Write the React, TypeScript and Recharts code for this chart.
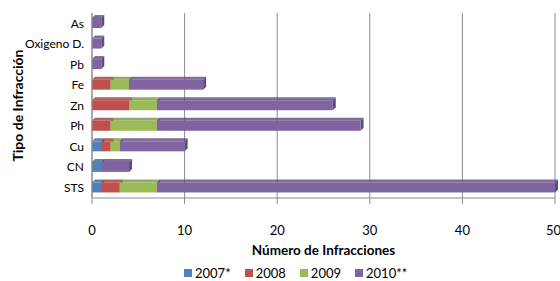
import { BarChart, Bar, XAxis, YAxis, CartesianGrid, Legend, Label } from "recharts";

const categories = ["As", "Oxigeno D.", "Pb", "Fe", "Zn", "Ph", "Cu", "CN", "STS"];
const v2007 = [0, 0, 0, 0, 0, 0, 1, 1, 1];
const v2008 = [0, 0, 0, 2, 4, 2, 1, 0, 2];
const v2009 = [0, 0, 0, 2, 3, 5, 1, 0, 4];
const v2010 = [1, 1, 1, 8, 19, 22, 7, 3, 43];
const xTicks = [0, 10, 20, 30, 40, 50];

const series = [
  { key: "y2007", name: "2007*", color: "#4F81BD", side: "#3A6594" },
  { key: "y2008", name: "2008", color: "#C0504D", side: "#963D3B" },
  { key: "y2009", name: "2009", color: "#9BBB59", side: "#799344" },
  { key: "y2010", name: "2010**", color: "#8064A2", side: "#5F4A7A" },
];

const data = categories.map((name, i) => ({
  name,
  y2007: v2007[i],
  y2008: v2008[i],
  y2009: v2009[i],
  y2010: v2010[i],
}));

const FONT = "Lato, 'Liberation Sans', sans-serif";
const D = 3; // depth of the fake 3d

function Box3D(props: any) {
  const { x, y, width, height, fill, side } = props;
  if (!width || width <= 0) return null;
  return (
    <g>
      <polygon
        points={`${x + width},${y} ${x + width + D},${y - D} ${x + width + D},${y + height - D} ${x + width},${y + height}`}
        fill={side}
      />
      <polygon
        points={`${x},${y} ${x + D},${y - D} ${x + width + D},${y - D} ${x + width},${y}`}
        fill={side}
        opacity={0.8}
      />
      <rect x={x} y={y} width={width} height={height} fill={fill} />
    </g>
  );
}

function LegendBox() {
  return (
    <div style={{ display: "flex", fontFamily: FONT, fontSize: 13, color: "#000" }}>
      {series.map((s) => (
        <div key={s.key} style={{ display: "flex", alignItems: "center", marginRight: 14 }}>
          <span style={{ width: 8, height: 8, background: s.color, marginRight: 3, display: "inline-block" }} />
          <span>{s.name}</span>
        </div>
      ))}
    </div>
  );
}

export default function App() {
  return (
    <div style={{ position: "absolute", left: 0, top: 0, width: 560, height: 281, background: "#fff" }}>
      <BarChart
        width={560}
        height={281}
        data={data}
        layout="vertical"
        margin={{ top: 13, right: 5, left: 0, bottom: 37 }}
        barSize={10}
      >
        <CartesianGrid horizontal={false} stroke="#8C8C8C" />
        <XAxis
          type="number"
          domain={[0, 50]}
          ticks={xTicks}
          tick={{ fontFamily: FONT, fontSize: 13, fill: "#000" }}
          tickMargin={22}
          stroke="#8C8C8C"
          tickSize={6}
        >
          <Label
            content={({ viewBox }: any) => (
              <text
                x={viewBox.x + viewBox.width / 2}
                y={viewBox.y + 57}
                textAnchor="middle"
                fontFamily={FONT}
                fontSize={13.5}
                fontWeight="bold"
                fill="#000"
              >
                Número de Infracciones
              </text>
            )}
          />
        </XAxis>
        <YAxis
          type="category"
          dataKey="name"
          width={92}
          interval={0}
          tick={{ fontFamily: FONT, fontSize: 12, fill: "#000" }}
          tickLine={false}
          stroke="#8C8C8C"
        >
          <Label
            content={({ viewBox }: any) => (
              <text
                x={23}
                y={viewBox.y + viewBox.height / 2}
                transform={`rotate(-90 23 ${viewBox.y + viewBox.height / 2})`}
                textAnchor="middle"
                fontFamily={FONT}
                fontSize={14}
                fontWeight="bold"
                fill="#000"
              >
                Tipo de Infracción
              </text>
            )}
          />
        </YAxis>
        <Legend
          verticalAlign="bottom"
          align="left"
          content={<LegendBox />}
          wrapperStyle={{ left: 184, bottom: 0, width: 300 }}
        />
        {series.map((s) => (
          <Bar
            key={s.key}
            dataKey={s.key}
            name={s.name}
            stackId="a"
            fill={s.color}
            isAnimationActive={false}
            shape={(p: any) => <Box3D {...p} side={s.side} />}
          />
        ))}
      </BarChart>
    </div>
  );
}
